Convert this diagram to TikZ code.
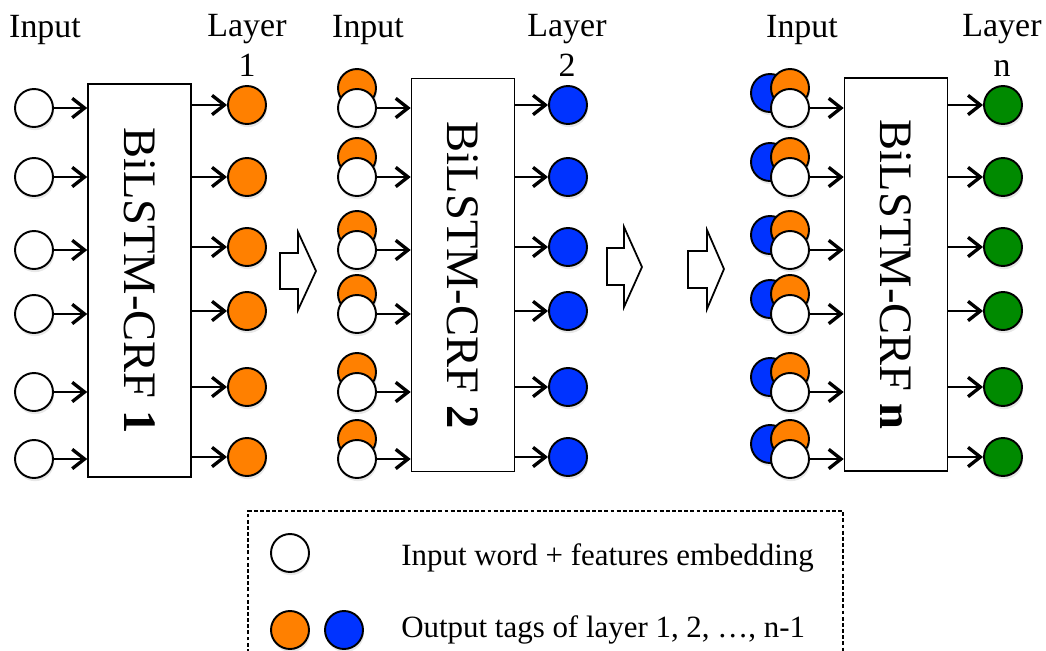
\documentclass[tikz,border=0pt]{standalone}
\usepackage{fontspec}
\setmainfont{Liberation Serif}
\usepackage{graphicx}
\usetikzlibrary{arrows.meta,shadows}
\definecolor{tagorange}{RGB}{255,128,0}
\definecolor{tagblue}{RGB}{0,51,255}
\definecolor{taggreen}{RGB}{0,138,0}

\begin{document}
\begin{tikzpicture}[x=.02cm, y=-.02cm,
        dot/.style={circle, draw, line width=1.1pt, fill=white, inner sep=0pt,
            minimum size=.76cm,
            drop shadow={shadow xshift=.6pt, shadow yshift=-1.8pt, opacity=.18}},
        crf/.style={draw, line width=.9pt, inner sep=0pt, minimum width=2.06cm,
            minimum height=7.86cm, font=\fontsize{26.5}{30}\selectfont},
        arr/.style={line width=.7pt,
            -{Straight Barb[length=7pt, width=11pt, line width=1.9pt]}},
        head/.style={anchor=base, font=\fontsize{19.3}{23}\selectfont},
        bigarrow/.style={draw, line width=1pt, line join=miter}]
    \useasboundingbox (0, 0) rectangle (1046, 650);

    % headers
    \node [head] (h1) at (45, 37) {Input};
    \node [head] (l1) at (247, 36) {Layer};
    \node [head] (n1) at (247, 76) {1};
    \node [head] (h2) at (368, 37) {Input};
    \node [head] (l2) at (567, 36) {Layer};
    \node [head] (n2) at (567, 76) {2};
    \node [head] (h3) at (802, 37) {Input};
    \node [head] (l3) at (1002, 36) {Layer};
    \node [head] (n3) at (1002, 76) {n};

    % the three taggers
    \node [crf] (crf1) at (139.5, 280.5) {\rotatebox{-90}{BiLSTM-CRF \textbf{1}}};
    \node [crf] (crf2) at (463, 275) {\rotatebox{-90}{BiLSTM-CRF \textbf{2}}};
    \node [crf] (crf3) at (896, 274.5) {\rotatebox{-90}{BiLSTM-CRF \textbf{n}}};

    \foreach \r/\yi/\yo in {1/108/105, 2/177/177, 3/250/247, 4/314/311, 5/392/387, 6/459/457} {
        % layer 1
        \node [dot] (a\r) at (34, \yi) {};
        \node [dot, fill=tagorange] (p\r) at (247, \yo) {};
        \draw [arr] (a\r) -- (crf1.west |- a\r);
        \draw [arr] (crf1.east |- p\r) -- (p\r);
        % layer 2
        \node [dot, fill=tagorange] (bo\r) at (357, \yi - 20) {};
        \node [dot] (b\r) at (357, \yi) {};
        \node [dot, fill=tagblue] (q\r) at (568, \yo) {};
        \draw [arr] (b\r) -- (crf2.west |- b\r);
        \draw [arr] (crf2.east |- q\r) -- (q\r);
        % layer n
        \node [dot, fill=tagblue] (cb\r) at (770, \yi - 15) {};
        \node [dot, fill=tagorange] (co\r) at (790, \yi - 20) {};
        \node [dot] (c\r) at (790, \yi) {};
        \node [dot, fill=taggreen] (s\r) at (1003, \yo) {};
        \draw [arr] (c\r) -- (crf3.west |- c\r);
        \draw [arr] (crf3.east |- s\r) -- (s\r);
    }

    % block arrows between the stages
    \draw [bigarrow] (280, 253) -- (298, 253) -- (298, 232) -- (316, 271) --
        (298, 310) -- (298, 289) -- (280, 289) -- cycle;
    \draw [bigarrow] (607, 248) -- (624, 248) -- (624, 227) -- (642, 267) --
        (624, 307) -- (624, 285) -- (607, 285) -- cycle;
    \draw [bigarrow] (688, 251) -- (707, 251) -- (707, 230) -- (724, 269) --
        (707, 309) -- (707, 288) -- (688, 288) -- cycle;

    % legend
    \draw [line width=.75pt, dash pattern=on 2.2pt off 1.3pt] (248, 665) -- (248, 511) -- (843, 511) -- (843, 665);
    \node [dot] (lw) at (290, 553) {};
    \node [dot, fill=tagorange] (lo) at (290, 630) {};
    \node [dot, fill=tagblue] (lb) at (344, 630) {};
    \node [anchor=base west, inner sep=0pt, font=\fontsize{17.6}{21}\selectfont] (t1) at (401, 565)
        {Input word + features embedding};
    \node [anchor=base west, inner sep=0pt, font=\fontsize{17.6}{21}\selectfont] (t2) at (401, 637)
        {Output tags of layer 1, 2, \dots, n-1};
\end{tikzpicture}
\end{document}
